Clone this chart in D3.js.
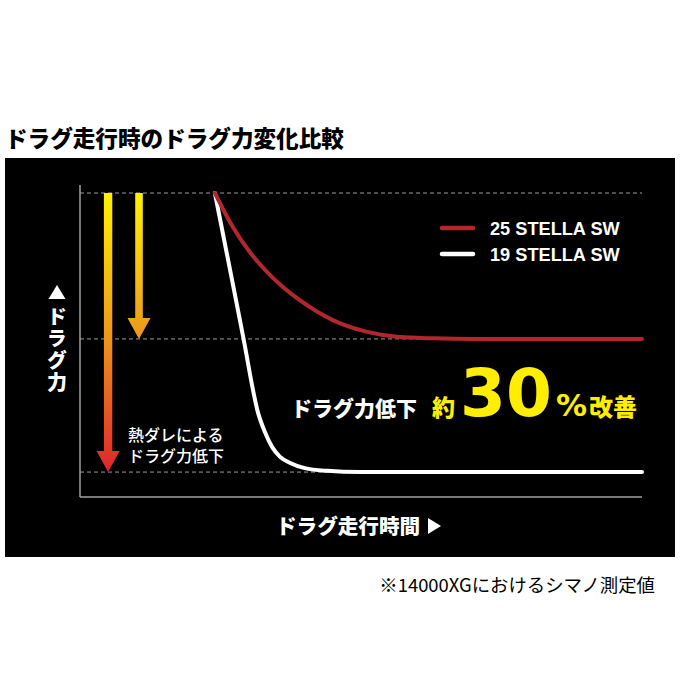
<!DOCTYPE html>
<html><head><meta charset="utf-8">
<script src="https://cdn.jsdelivr.net/npm/d3@7"></script>
<style>body{margin:0;background:#fff}svg{display:block}</style>
</head><body>
<script>
const title = "ドラグ走行時のドラグ力変化比較";
const seriesNames = ["25 STELLA SW", "19 STELLA SW"];
const seriesColors = ["#b3262d", "#ffffff"];
const red25Time = [24, 27.2, 30.2, 33.3, 36.1, 39.1, 45.0, 51.1, 56.9, 62.8, 70, 100];
const red25Drag = [100, 88.8, 80.6, 74.0, 69.1, 64.8, 58.2, 54.3, 52.6, 52.2, 52, 52];
const white19Time = [24, 26.5, 29.0, 31.7, 32.9, 34.2, 35.6, 37.4, 40.0, 44.0, 49.8, 100];
const white19Drag = [100, 76.6, 53.0, 27.6, 21.4, 16.4, 13.2, 11.2, 9.5, 8.6, 8.2, 8.2];
const gridLevels = [100, 52, 8.2];
const arrowTimes = [5.0, 10.5];
const arrowEnds = [8.2, 52];
const yLabel = "ドラグ力";
const xLabel = "ドラグ走行時間";
const noteLines = ["熱ダレによる", "ドラグ力低下"];
const note = "※14000XGにおけるシマノ測定値";

const W = 680, H = 680;
const svg = d3.select("body").append("svg").attr("width", W).attr("height", H);
const jp = "'Noto Sans CJK JP','Noto Sans',sans-serif";

svg.append("text").attr("x", 5).attr("y", 147).attr("font-family", jp).attr("font-weight", 900)
  .attr("font-size", 22.6).attr("fill", "#000").text(title);

svg.append("rect").attr("x", 5).attr("y", 158).attr("width", 670).attr("height", 399).attr("fill", "#000");

const x = d3.scaleLinear().domain([0, 100]).range([80, 642]);
const y = d3.scaleLinear().domain([0, 100]).range([497, 193]);

// gradient
const defs = svg.append("defs");
const grad = defs.append("linearGradient").attr("id", "g").attr("gradientUnits", "userSpaceOnUse")
  .attr("x1", 0).attr("x2", 0).attr("y1", y(100)).attr("y2", y(8.2));
grad.append("stop").attr("offset", 0).attr("stop-color", "#fff200");
grad.append("stop").attr("offset", 0.5).attr("stop-color", "#ee9a1c");
grad.append("stop").attr("offset", 1).attr("stop-color", "#e0232b");

// grid
svg.selectAll(".grid").data(gridLevels).join("line")
  .attr("x1", x(0)).attr("x2", x(100)).attr("y1", d => y(d)).attr("y2", d => y(d))
  .attr("stroke", "#9a9a9a").attr("stroke-width", 1).attr("stroke-dasharray", "4,3");

// axes
svg.append("line").attr("x1", x(0)).attr("x2", x(0)).attr("y1", y(102.6)).attr("y2", y(0))
  .attr("stroke", "#a0a0a0").attr("stroke-width", 1.5);
svg.append("line").attr("x1", x(0)).attr("x2", x(100)).attr("y1", y(0)).attr("y2", y(0))
  .attr("stroke", "#a0a0a0").attr("stroke-width", 1.5);

// arrows
arrowTimes.forEach((t, i) => {
  const cx = x(t), y0 = y(100), y1 = y(arrowEnds[i]);
  const sw = i === 0 ? 4.2 : 3.8, hw = 11.5, hl = 21;
  const p = `M${cx-sw},${y0} L${cx+sw},${y0} L${cx+sw},${y1-hl} L${cx+hw},${y1-hl} L${cx},${y1} L${cx-hw},${y1-hl} L${cx-sw},${y1-hl} Z`;
  svg.append("path").attr("d", p).attr("fill", "url(#g)");
});

const nt = svg.append("text").attr("font-family", jp).attr("font-weight", 500)
  .attr("font-size", 16).attr("fill", "#fff");
nt.selectAll("tspan").data(noteLines).join("tspan")
  .attr("x", 128).attr("y", (d, i) => 441 + i * 20.5).text(d => d);

// curves
const line = d3.line().x(d => x(d[0])).y(d => y(d[1])).curve(d3.curveMonotoneX);
const redData = red25Time.map((t, i) => [t, red25Drag[i]]);
const whiteData = white19Time.map((t, i) => [t, white19Drag[i]]);
[whiteData, redData].forEach((d, i) => {
  svg.append("path").attr("d", line(d)).attr("fill", "none")
    .attr("stroke", i === 0 ? seriesColors[1] : seriesColors[0])
    .attr("stroke-width", 4).attr("stroke-linecap", "round");
});

// legend
seriesNames.forEach((n, i) => {
  const ly = 228 + i * 26;
  svg.append("line").attr("x1", 442).attr("x2", 473).attr("y1", ly).attr("y2", ly)
    .attr("stroke", seriesColors[i]).attr("stroke-width", 4.5).attr("stroke-linecap", "round");
  svg.append("text").attr("x", 490).attr("y", ly + 6.5).attr("font-family", "'Liberation Sans',Arial,sans-serif")
    .attr("font-weight", 700).attr("font-size", 18.2).attr("fill", "#fff").text(n);
});

// y label
svg.append("path").attr("d", "M57,285 L65.5,299 L48.5,299 Z").attr("fill", "#fff");
svg.append("text").attr("x", 57).attr("y", 306)
  .attr("style", "writing-mode: vertical-rl; text-orientation: upright; letter-spacing: 2px")
  .attr("font-family", jp).attr("font-weight", 900).attr("font-size", 20).attr("fill", "#fff").text(yLabel);

// x label
svg.append("text").attr("x", 276).attr("y", 534).attr("font-family", jp).attr("font-weight", 900)
  .attr("font-size", 20.6).attr("fill", "#fff").text(xLabel);
svg.append("path").attr("d", "M428,518 L441,526 L428,534 Z").attr("fill", "#fff");

// callout
const t = svg.append("text").attr("y", 416).attr("font-family", jp).attr("font-weight", 900);
t.append("tspan").attr("x", 291).attr("font-size", 21).attr("fill", "#fff").text("ドラグ力低下");
t.append("tspan").attr("x", 432).attr("font-size", 23).attr("fill", "#ffee00").text("約");
t.append("tspan").attr("x", 460).attr("font-size", 66).attr("font-family", "'DejaVu Sans',sans-serif").attr("font-weight", 700).attr("fill", "#ffee00").text("30");
t.append("tspan").attr("x", 556).attr("font-size", 31).attr("font-family", "'DejaVu Sans',sans-serif").attr("font-weight", 700).attr("fill", "#ffee00").text("%");
t.append("tspan").attr("x", 589).attr("font-size", 24).attr("fill", "#ffee00").text("改善");

svg.append("text").attr("x", 655).attr("y", 592).attr("text-anchor", "end").attr("font-family", jp)
  .attr("font-weight", 400).attr("font-size", 18.4).attr("fill", "#000").text(note);
</script>
</body></html>
